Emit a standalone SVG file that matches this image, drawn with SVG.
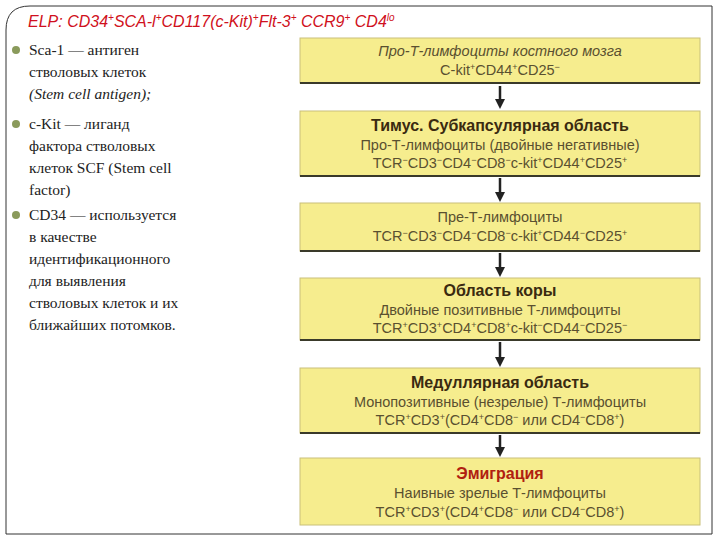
<svg xmlns="http://www.w3.org/2000/svg" width="720" height="540" viewBox="0 0 720 540">
<style>
.box{fill:#f6ed8e;stroke:#c9c07a;stroke-width:1}
.bl{stroke:#3a3a2a;stroke-width:2}
.t{font-family:"Liberation Sans",Arial,sans-serif;font-size:14.5px;fill:#5a5030;text-anchor:middle}
.h{font-family:"Liberation Sans",Arial,sans-serif;font-size:16px;font-weight:bold;fill:#3a2a10;text-anchor:middle}
.l{font-family:"Liberation Serif","Times New Roman",serif;font-size:15.5px;fill:#222}
.a{stroke:#222;stroke-width:2.5;marker-end:url(#ah)}
</style>
<defs><marker id="ah" markerWidth="4" markerHeight="4" refX="2" refY="2" orient="auto" markerUnits="strokeWidth"><path d="M0,0 L4,2 L0,4 Z" fill="#222"/></marker></defs>
<rect width="720" height="540" fill="#fff"/>
<path d="M30,6 H712 V534 H6 V30 Q6,6 30,6 Z" fill="none" stroke="#333" stroke-width="1"/>
<text x="28" y="27" font-family="Liberation Sans,Arial,sans-serif" font-size="16" font-style="italic" fill="#d01020">ELP: CD34<tspan font-size="10" dy="-6">+</tspan><tspan dy="6">SCA-l</tspan><tspan font-size="10" dy="-6">+</tspan><tspan dy="6">CD117(c-Kit)</tspan><tspan font-size="10" dy="-6">+</tspan><tspan dy="6">Flt-3</tspan><tspan font-size="10" dy="-6">+</tspan><tspan dy="6"> CCR9</tspan><tspan font-size="10" dy="-6">+</tspan><tspan dy="6"> CD4</tspan><tspan font-size="10" dy="-6">lo</tspan></text>
<g id="left">
<circle cx="16" cy="50" r="4" fill="#8a9a5b"/><circle cx="16" cy="124" r="4" fill="#8a9a5b"/><circle cx="16" cy="215" r="4" fill="#8a9a5b"/>
<text class="l" x="29" y="55">Sca-1 — антиген</text>
<text class="l" x="29" y="77">стволовых клеток</text>
<text class="l" x="29" y="99" font-style="italic">(Stem cell antigen);</text>
<text class="l" x="29" y="129">c-Kit — лиганд</text>
<text class="l" x="29" y="151">фактора стволовых</text>
<text class="l" x="29" y="173">клеток SCF (Stem cell</text>
<text class="l" x="29" y="195">factor)</text>
<text class="l" x="29" y="220">CD34 — используется</text>
<text class="l" x="29" y="242">в качестве</text>
<text class="l" x="29" y="264">идентификационного</text>
<text class="l" x="29" y="286">для выявления</text>
<text class="l" x="29" y="308">стволовых клеток и их</text>
<text class="l" x="29" y="330">ближайших потомков.</text>
</g>
<g id="connectors">
<line class="a" x1="500" y1="86" x2="500" y2="104"/>
<line class="a" x1="500" y1="178" x2="500" y2="197"/>
<line class="a" x1="500" y1="253" x2="500" y2="272"/>
<line class="a" x1="500" y1="342" x2="500" y2="362"/>
<line class="a" x1="500" y1="435" x2="500" y2="452"/>
</g>
<g id="n1"><rect class="box" x="300" y="38" width="400" height="45"/><line class="bl" x1="300" y1="83" x2="700" y2="83"/>
<text class="t" x="500" y="56" font-style="italic">Про-Т-лимфоциты костного мозга</text>
<text class="t" x="500" y="75">C-kit<tspan font-size="9" dy="-5">+</tspan><tspan dy="5">CD44</tspan><tspan font-size="9" dy="-5">+</tspan><tspan dy="5">CD25</tspan><tspan font-size="9" dy="-5">−</tspan></text></g>
<g id="n2"><rect class="box" x="300" y="111" width="400" height="65"/><line class="bl" x1="300" y1="176" x2="700" y2="176"/>
<text class="h" x="500" y="131">Тимус. Субкапсулярная область</text>
<text class="t" x="500" y="150">Про-Т-лимфоциты (двойные негативные)</text>
<text class="t" x="500" y="168">TCR<tspan font-size="9" dy="-5">−</tspan><tspan dy="5">CD3</tspan><tspan font-size="9" dy="-5">−</tspan><tspan dy="5">CD4</tspan><tspan font-size="9" dy="-5">−</tspan><tspan dy="5">CD8</tspan><tspan font-size="9" dy="-5">−</tspan><tspan dy="5">c-kit</tspan><tspan font-size="9" dy="-5">+</tspan><tspan dy="5">CD44</tspan><tspan font-size="9" dy="-5">+</tspan><tspan dy="5">CD25</tspan><tspan font-size="9" dy="-5">+</tspan></text></g>
<g id="n3"><rect class="box" x="300" y="203" width="400" height="48"/><line class="bl" x1="300" y1="251" x2="700" y2="251"/>
<text class="t" x="500" y="222">Пре-Т-лимфоциты</text>
<text class="t" x="500" y="241">TCR<tspan font-size="9" dy="-5">−</tspan><tspan dy="5">CD3</tspan><tspan font-size="9" dy="-5">−</tspan><tspan dy="5">CD4</tspan><tspan font-size="9" dy="-5">−</tspan><tspan dy="5">CD8</tspan><tspan font-size="9" dy="-5">−</tspan><tspan dy="5">c-kit</tspan><tspan font-size="9" dy="-5">+</tspan><tspan dy="5">CD44</tspan><tspan font-size="9" dy="-5">−</tspan><tspan dy="5">CD25</tspan><tspan font-size="9" dy="-5">+</tspan></text></g>
<g id="n4"><rect class="box" x="300" y="278" width="400" height="62"/><line class="bl" x1="300" y1="340" x2="700" y2="340"/>
<text class="h" x="500" y="296">Область коры</text>
<text class="t" x="500" y="315">Двойные позитивные Т-лимфоциты</text>
<text class="t" x="500" y="333">TCR<tspan font-size="9" dy="-5">+</tspan><tspan dy="5">CD3</tspan><tspan font-size="9" dy="-5">+</tspan><tspan dy="5">CD4</tspan><tspan font-size="9" dy="-5">+</tspan><tspan dy="5">CD8</tspan><tspan font-size="9" dy="-5">+</tspan><tspan dy="5">c-kit</tspan><tspan font-size="9" dy="-5">−</tspan><tspan dy="5">CD44</tspan><tspan font-size="9" dy="-5">−</tspan><tspan dy="5">CD25</tspan><tspan font-size="9" dy="-5">−</tspan></text></g>
<g id="n5"><rect class="box" x="300" y="368" width="400" height="65"/><line class="bl" x1="300" y1="433" x2="700" y2="433"/>
<text class="h" x="500" y="388">Медуллярная область</text>
<text class="t" x="500" y="407">Монопозитивные (незрелые) Т-лимфоциты</text>
<text class="t" x="500" y="425">TCR<tspan font-size="9" dy="-5">+</tspan><tspan dy="5">CD3</tspan><tspan font-size="9" dy="-5">+</tspan><tspan dy="5">(CD4</tspan><tspan font-size="9" dy="-5">+</tspan><tspan dy="5">CD8</tspan><tspan font-size="9" dy="-5">−</tspan><tspan dy="5"> или CD4</tspan><tspan font-size="9" dy="-5">−</tspan><tspan dy="5">CD8</tspan><tspan font-size="9" dy="-5">+</tspan><tspan dy="5">)</tspan></text></g>
<g id="n6"><rect class="box" x="300" y="458" width="400" height="67"/>
<text class="h" x="500" y="479" style="fill:#b02010">Эмиграция</text>
<text class="t" x="500" y="498">Наивные зрелые Т-лимфоциты</text>
<text class="t" x="500" y="517">TCR<tspan font-size="9" dy="-5">+</tspan><tspan dy="5">CD3</tspan><tspan font-size="9" dy="-5">+</tspan><tspan dy="5">(CD4</tspan><tspan font-size="9" dy="-5">+</tspan><tspan dy="5">CD8</tspan><tspan font-size="9" dy="-5">−</tspan><tspan dy="5"> или CD4</tspan><tspan font-size="9" dy="-5">−</tspan><tspan dy="5">CD8</tspan><tspan font-size="9" dy="-5">+</tspan><tspan dy="5">)</tspan></text></g>
</svg>
